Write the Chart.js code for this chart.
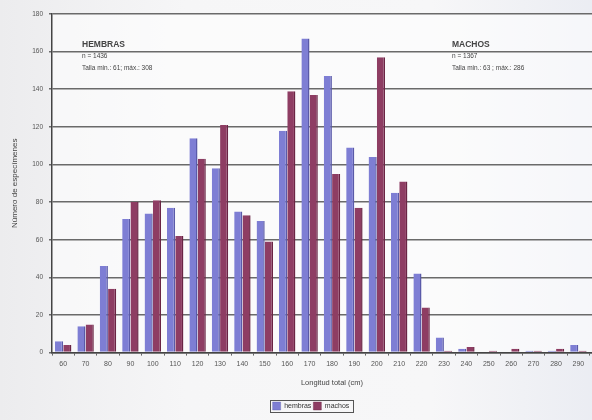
<!DOCTYPE html>
<html><head><meta charset="utf-8">
<script src="https://cdn.jsdelivr.net/npm/chart.js@4/dist/chart.umd.min.js"></script>
<style>
html,body{margin:0;padding:0;width:592px;height:420px;overflow:hidden;background:#f3f3f4;}
#wrap{position:absolute;left:0;top:0;width:616px;height:420px;
background:linear-gradient(90deg,#ececee 0%,#f6f6f7 30%,#f7f7f8 70%,#e9ebf2 100%);}
</style></head>
<body><div id="wrap"><canvas id="c" width="616" height="420"></canvas></div>
<script>
const categories = ['60','70','80','90','100','110','120','130','140','150','160','170','180','190','200','210','220','230','240','250','260','270','280','290','300'];
const hembras = [6,14,46,71,74,77,114,98,75,70,118,167,147,109,104,85,42,8,2,0,0,1,1,4,1];
const machos  = [4,15,34,80,81,62,103,121,73,59,139,137,95,77,157,91,24,1,3,1,2,1,2,1,0];
const yTicks = [0,20,40,60,80,100,120,140,160,180];
const notes = [
  {x:82, lines:['HEMBRAS','n = 1436','Talla min.: 61; máx.: 308']},
  {x:452, lines:['MACHOS','n = 1367','Talla min.: 63 ; máx.: 286']}
];
const FONT = "'Liberation Sans', Arial, sans-serif";
Chart.defaults.font.family = FONT;

const extras = {
  id:'extras',
  beforeDraw(chart){
    const {ctx, chartArea:a} = chart;
    ctx.save();
    ctx.fillStyle = 'rgba(255,255,255,0.55)';
    ctx.fillRect(a.left, a.top, a.right-a.left, a.bottom-a.top);
    ctx.restore();
  },
  afterDraw(chart){
    const {ctx, chartArea:a} = chart;
    ctx.save();
    ctx.fillStyle = '#444';
    ctx.textBaseline = 'top';
    notes.forEach(n=>{
      ctx.font = "bold 8.5px " + FONT;
      ctx.fillText(n.lines[0], n.x, a.top + 26);
      ctx.font = "6.5px " + FONT;
      ctx.fillText(n.lines[1], n.x, a.top + 39);
      ctx.fillText(n.lines[2], n.x, a.top + 51);
    });
    const L = chart.legend;
    ctx.strokeStyle = '#555';
    ctx.lineWidth = 1;
    const hb = L.legendHitBoxes;
    if (hb && hb.length){
      const x0 = hb[0].left - 3, x1 = hb[hb.length-1].left + hb[hb.length-1].width + 3;
      const y0 = hb[0].top - 2, y1 = hb[0].top + hb[0].height + 2;
      ctx.strokeRect(Math.round(x0)+0.5, Math.round(y0)+0.5, Math.round(x1-x0), Math.round(y1-y0));
    }
    ctx.restore();
  }
};

new Chart(document.getElementById('c'), {
  type:'bar',
  data:{
    labels:categories,
    datasets:[
      {label:'hembras', data:hembras, backgroundColor:'#7e7ed4', borderColor:'#5a5aa8', borderWidth:{left:0,top:0,right:1.5,bottom:0}},
      {label:'machos', data:machos, backgroundColor:'#8e3d63', borderColor:'#6a2444', borderWidth:{left:0,top:0,right:1.5,bottom:0}}
    ]
  },
  options:{
    responsive:false, animation:false,
    devicePixelRatio:1,
    layout:{padding:{left:10,top:14,right:4,bottom:0}},
    datasets:{bar:{categoryPercentage:0.74, barPercentage:0.98}},
    plugins:{
      legend:{position:'bottom', labels:{boxWidth:8, boxHeight:8, padding:2, color:'#333', font:{size:7}}},
      tooltip:{enabled:false}
    },
    scales:{
      x:{
        grid:{display:true, drawOnChartArea:false, drawTicks:true, tickLength:3, color:'#666', offset:true},
        border:{display:true, color:'#444', width:1.5},
        ticks:{color:'#555', font:{size:7}, maxRotation:0, autoSkip:false, padding:4},
        title:{display:true, text:'Longitud total (cm)', color:'#444', font:{size:7.5}, padding:{top:6,bottom:13}}
      },
      y:{
        min:0, max:180,
        afterBuildTicks(s){ s.ticks = yTicks.map(v=>({value:v})); },
        afterFit(s){ s.width = 42; },
        grid:{color:'#6a6a6a', lineWidth:1.5, drawTicks:true, tickLength:3},
        border:{display:true, color:'#444', width:1.5},
        ticks:{color:'#555', font:{size:6.5}, padding:6},
        title:{display:true, text:'Número de especímenes', color:'#444', font:{size:8}, padding:{top:0,bottom:2}}
      }
    }
  },
  plugins:[extras]
});
</script></body></html>
